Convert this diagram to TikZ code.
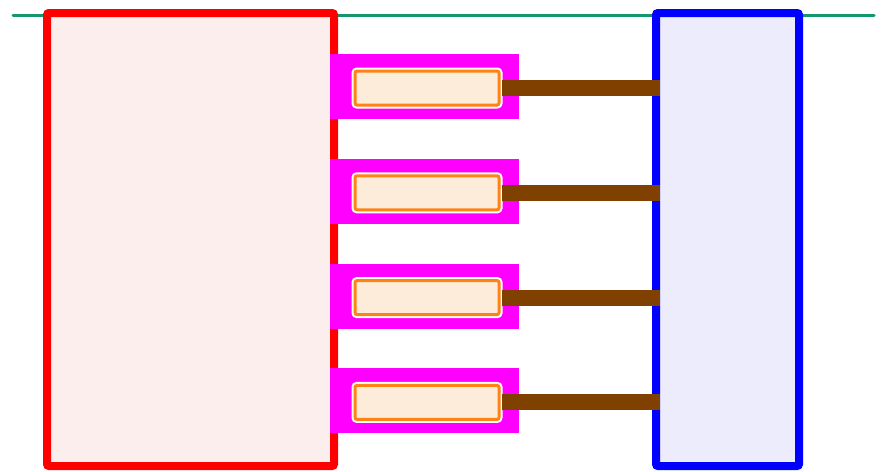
\documentclass[tikz,border=0pt]{standalone}
\usetikzlibrary{calc}
\definecolor{railgreen}{RGB}{22,150,108}
\definecolor{linkbrown}{RGB}{128,64,0}
\definecolor{carrierpink}{RGB}{255,0,255}
\definecolor{leftfill}{RGB}{253,238,238}
\definecolor{rightfill}{RGB}{236,236,253}
\definecolor{slotfill}{RGB}{253,236,218}
\definecolor{slotedge}{RGB}{255,130,20}
\tikzset{
  block/.style={draw, line width=8pt, rounded corners=2pt, inner sep=0pt, outer sep=0pt,
    minimum height=453pt},
  leftblock/.style={block, draw=red, fill=leftfill, minimum width=287pt},
  rightblock/.style={block, draw=blue, fill=rightfill, minimum width=143pt},
  carrier/.style={fill=carrierpink, inner sep=0pt, outer sep=0pt, minimum width=189pt, minimum height=65pt},
  slot/.style={draw=slotedge, line width=3pt, fill=slotfill, rounded corners=2pt,
    inner sep=0pt, outer sep=0pt, minimum width=144pt, minimum height=34pt,
    preaction={draw=white, line width=7pt}},
  link/.style={draw=linkbrown, line width=16pt, line cap=butt},
  rail/.style={draw=railgreen, line width=3pt, line cap=round}
}
\begin{document}
\begin{tikzpicture}[x=1pt,y=-1pt]
  \useasboundingbox (0,0) rectangle (885,471);
  % top rail behind the blocks
  \coordinate (railL) at (13,15);
  \coordinate (railR) at (874,15);
  \draw[rail] (railL) -- (railR);
  % the two main blocks
  \node[leftblock] (L) at (190.5,239.5) {};
  \node[rightblock] (R) at (727.5,239.5) {};
  % carriers with their slots and links
  \foreach \i in {0,1,2,3} {
    \pgfmathsetmacro{\yc}{86.5+104.8*\i}
    \node[carrier] (c\i) at (424.5,\yc) {};
    \node[slot] (s\i) at (427,\yc+1.5) {};
    \draw[link] ([xshift=3pt]s\i.east) -- ([xshift=4pt]R.west |- s\i.east);
  }
\end{tikzpicture}
\end{document}
